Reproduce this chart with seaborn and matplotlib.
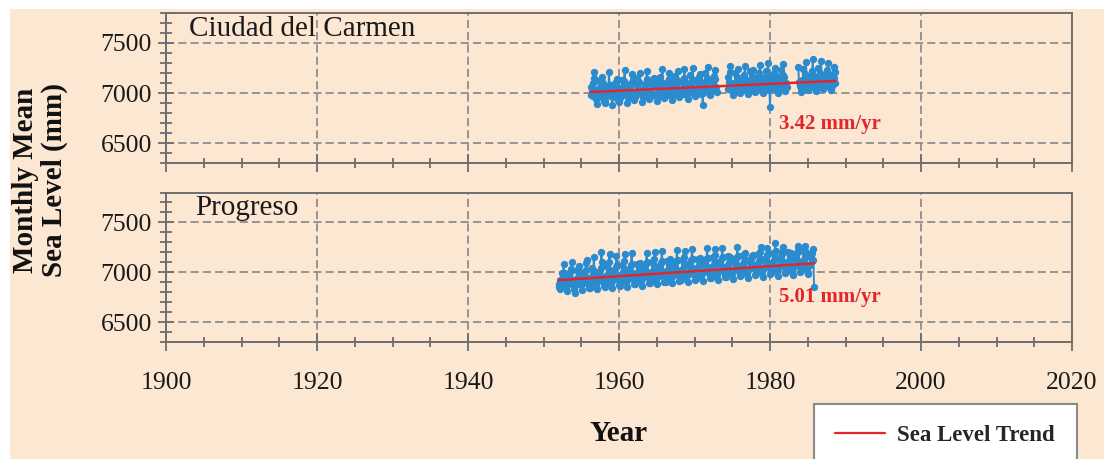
import numpy as np
import pandas as pd
import matplotlib
matplotlib.use("Agg")
import matplotlib.pyplot as plt
import seaborn as sns
from matplotlib.ticker import MultipleLocator
from matplotlib.patches import Rectangle
from matplotlib.lines import Line2D

# ---------------- data (monthly mean sea level, mm) ----------------
stations = ["Ciudad del Carmen", "Progreso"]
trend_labels = ["3.42 mm/yr", "5.01 mm/yr"]
trend_rates = [3.42, 5.01]          # mm/yr
trend_start_levels = [7010, 6920]   # mm at first record
start_years = [1956, 1952]
start_months = [4, 1]

N = None
carmen_levels = [
    6985, 7060, 7020, 6970, 7095, 7150, 7210, 7010, 6940,                    # 1956 Apr-Dec
    6960, 6895, 6990, 7040, 6990, 7120, 6975, 7005, 7085, 7160, 7100, 6950,  # 1957
    6920, 6935, 6905, 7030, 7070, 7010, 7060, 6995, 7205, 7080, 6990, 7000,  # 1958
    6975, 6885, 7010, 6960, 7085, 7050, 6970, 7110, 7095, 7140, 7015, 6930,  # 1959
    6910, 6950, 6995, 7050, 6985, 7130, 7040, 6990, 7120, 7230, 7000, 7020,  # 1960
    6985, 6905, 6950, 7035, 7075, 7040, 6980, 7100, 7185, 7090, 7120, 6950,  # 1961
    6930, 6960, 7000, 6985, 7090, 7150, 7050, 7005, 7110, 7200, 7035, 7015,  # 1962
    6990, 6910, 6960, 7045, 7030, 7065, 7090, 7015, 7220, 7140, 7010, 6970,  # 1963
    6945, 6965, 7020, 6990, 7100, 7080, 6985, 7120, 7150, 7105, 7130, 6995,  # 1964
    7000, 6920, 6970, 7060, 7040, 7160, 7060, 7020, 7095, 7240, 7030, 7040,  # 1965
    6955, 6975, 7015, 7005, 7110, 7075, 7000, 7140, 7200, 7120, 7060, 6975,  # 1966
    7010, 6930, 6985, 7070, 7045, 7170, 7075, 7030, 7130, 7215, 7120, 7030,  # 1967
    6965, 6990, 7030, 7000, 7120, 7095, 6995, 7150, 7235, 7110, 7045, 6990,  # 1968
    7020, 6945, 6995, 7080, 7050, 7180, 7090, 7040, 7140, 7250, 7130, 7040,  # 1969
    6975, 7000, 7040, 7015, 7125, 7100, 7010, 7160, 7190, 7120, 7070, 6995,  # 1970
    7030, 6880, 7005, 7090, 7060, 7195, 7095, 7050, 7150, 7260, 7135, 7045,  # 1971
    6985, 7005, 7050, 7020, 7130, 7110, 7020, 7165, 7230, 7135, 7060, 7010,  # 1972
    N, N, N, N, N, N, N, N, N, N, N, N,                                      # 1973
    N, N, N, N, N, 7160, 7040, 7110, 7210, 7265, 7080, 7025,                 # 1974
    7040, 6985, 7010, 7095, 7065, 7200, 7090, 7060, 7160, 7240, 7130, 7010,  # 1975
    7000, 7040, 7070, 7030, 7145, 7110, 7030, 7180, 7265, 7140, 7085, 7050,  # 1976
    7050, 6990, 7025, 7100, 7080, 7215, 7110, 7055, 7170, 7230, 7150, 7020,  # 1977
    7010, 7045, 7080, 7040, 7150, 7120, 7040, 7195, 7280, 7160, 7090, 7060,  # 1978
    7060, 7000, 7035, 7110, 7085, 7220, 7115, 7070, 7175, 7300, 7155, 7030,  # 1979
    6865, 7050, 7090, 7050, 7160, 7125, 7045, 7200, 7245, 7170, 7100, 7065,  # 1980
    7070, 7005, 7045, 7120, 7090, 7230, 7120, 7075, 7180, 7290, 7160, 7040,  # 1981
    7025, 7060, 7095, 7060, N, N, N, N, N, N, N, N,                          # 1982
    N, N, N, N, N, N, N, N, N, 7260, 7110, 7070,                             # 1983
    7080, 7015, 7050, 7130, 7100, 7240, 7130, 7085, 7190, 7310, 7165, 7050,  # 1984
    7030, 7070, 7105, 7070, 7170, 7150, 7060, 7215, 7340, 7180, 7115, 7080,  # 1985
    7085, 7020, 7060, 7140, 7110, 7250, 7140, 7090, 7200, 7320, 7170, 7055,  # 1986
    7040, 7080, 7115, 7075, 7180, 7160, 7065, 7225, 7300, 7190, 7120, 7090,  # 1987
    7090, 7030, 7070, 7150, 7115, 7260, 7145, 7095, 7210,                    # 1988 Jan-Sep
]

progreso_levels = [
    6850, 6880, 6830, 6925, 6905, 6990, 6870, 6975, 7080, 6960, 6990, 6855,  # 1952
    6870, 6810, 6900, 6880, 6960, 6940, 6925, 7010, 7035, 7100, 6920, 6890,  # 1953
    6830, 6860, 6795, 6930, 6915, 7020, 6880, 6945, 7065, 6990, 7000, 6870,  # 1954
    6885, 6820, 6905, 6895, 6980, 6960, 6940, 7025, 7090, 7120, 6935, 6900,  # 1955
    6845, 6870, 6840, 6950, 6925, 7040, 6895, 6970, 7150, 7010, 7005, 6880,  # 1956
    6900, 6830, 6920, 6910, 6995, 6980, 6955, 7040, 7205, 7100, 6950, 6915,  # 1957
    6860, 6885, 6855, 6960, 6940, 7060, 6910, 6985, 7100, 7180, 7020, 6890,  # 1958
    6915, 6845, 6930, 6925, 7010, 6995, 6970, 7055, 7165, 7070, 6965, 6930,  # 1959
    6870, 6900, 6865, 6975, 6955, 7075, 6925, 7000, 7110, 7185, 7035, 6900,  # 1960
    6930, 6855, 6940, 6935, 7025, 7010, 6985, 7070, 7190, 7085, 6980, 6945,  # 1961
    6880, 6910, 6880, 6990, 6965, 7085, 6940, 7010, 7060, 7095, 7050, 6915,  # 1962
    6945, 6865, 6955, 6950, 7040, 7020, 7000, 7085, 7195, 7100, 6995, 6955,  # 1963
    6890, 6925, 6895, 7000, 6980, 7100, 6950, 7025, 7130, 7200, 7060, 6925,  # 1964
    6955, 6880, 6965, 6960, 7050, 7035, 7010, 7095, 7210, 7110, 7005, 6970,  # 1965
    6905, 6935, 6905, 7015, 6990, 7110, 6965, 7040, 7090, 7130, 7075, 6940,  # 1966
    6965, 6890, 6980, 6975, 7065, 7045, 7025, 7110, 7220, 7125, 7015, 6980,  # 1967
    6915, 6950, 6920, 7025, 7005, 7125, 6975, 7050, 7150, 7215, 7085, 6950,  # 1968
    6980, 6900, 6990, 6985, 7075, 7060, 7035, 7120, 7230, 7135, 7030, 6995,  # 1969
    6925, 6960, 6930, 7040, 7015, 7135, 6990, 7065, 7110, 7140, 7095, 6960,  # 1970
    6990, 6915, 7000, 7000, 7090, 7070, 7045, 7130, 7240, 7145, 7040, 7005,  # 1971
    6940, 6970, 6945, 7050, 7030, 7150, 7000, 7075, 7175, 7235, 7105, 6975,  # 1972
    7000, 6925, 7010, 7010, 7100, 7085, 7060, 7140, 7245, 7155, 7055, 7015,  # 1973
    6950, 6985, 6955, 7065, 7040, 7160, 7015, 7090, 7120, 7150, 7115, 6985,  # 1974
    7010, 6935, 7025, 7020, 7110, 7095, 7070, 7150, 7250, 7165, 7065, 7030,  # 1975
    6960, 6995, 6970, 7075, 7055, 7170, 7025, 7100, 7195, 7130, 7125, 6995,  # 1976
    7020, 6945, 7035, 7035, 7120, 7110, 7080, 7160, 7150, 7175, 7075, 7040,  # 1977
    6975, 7005, 6980, 7085, 7065, 7180, 7040, 7110, 7205, 7250, 7135, 7005,  # 1978
    7030, 6955, 7045, 7045, 7130, 7120, 7090, 7170, 7240, 7185, 7085, 7050,  # 1979
    6985, 7015, 6990, 7095, 7075, 7190, 7050, 7120, 7290, 7210, 7145, 7015,  # 1980
    7040, 6965, 7055, 7055, 7140, 7130, 7100, 7180, 7215, 7250, 7095, 7060,  # 1981
    6995, 7025, 7000, 7105, 7085, 7200, 7060, 7130, 7160, 7195, 7150, 7025,  # 1982
    7050, 6975, 7065, 7065, 7150, 7140, 7110, 7190, 7225, 7260, 7105, 7070,  # 1983
    7005, 7035, 7010, 7115, 7095, 7210, 7070, 7140, 7265, 7205, 7160, 7035,  # 1984
    7060, 6985, 7070, 7075, 7160, 7150, 7115, 7195, 7230, 7120, 6850,        # 1985 Jan-Nov
]
station_levels = [carmen_levels, progreso_levels]

x_ticks = [1900, 1920, 1940, 1960, 1980, 2000, 2020]
y_ticks = [6500, 7000, 7500]

# ---------------- style ----------------
W, H, DPI = 1104, 459, 100
BG = "#FCE7D3"
BLUE = "#2A8BCF"
RED = "#E3262B"
SPINE = "#6E6E6E"
GRID = "#8E8E8E"
SERIF = ["Liberation Serif", "DejaVu Serif"]

sns.set_theme(style="ticks")
plt.rcParams["font.family"] = SERIF
plt.rcParams["font.serif"] = SERIF
plt.rcParams["axes.unicode_minus"] = False


def to_frame(start_year, start_month, levels):
    v = np.array([np.nan if x is None else x for x in levels], dtype=float)
    t = start_year + (start_month - 1 + np.arange(len(v))) / 12.0
    seg = np.cumsum(np.isnan(v))
    df = pd.DataFrame({"year": t, "level": v, "seg": seg})
    return df.dropna()


fig = plt.figure(figsize=(W / DPI, H / DPI), dpi=DPI, facecolor="white")
fig.patches.append(Rectangle((10 / W, 0), 1 - 10 / W, 1 - 9 / H,
                             transform=fig.transFigure, facecolor=BG,
                             edgecolor="none", zorder=-10))

left, right = 166 / W, 1072 / W
boxes = [(12.7, 163.3), (192.5, 342.0)]
axes = []
for i, (top_px, bot_px) in enumerate(boxes):
    ax = fig.add_axes([left, 1 - bot_px / H, right - left, (bot_px - top_px) / H])
    axes.append(ax)
    ax.set_facecolor(BG)

    df = to_frame(start_years[i], start_months[i], station_levels[i])
    sns.lineplot(data=df, x="year", y="level", units="seg", estimator=None,
                 color=BLUE, lw=1.4, marker="o", markersize=5.3,
                 markeredgewidth=0, ax=ax, legend=False, zorder=3)

    t0, t1 = df["year"].min(), df["year"].max()
    v0 = trend_start_levels[i]
    trend = pd.DataFrame({"year": [t0, t1],
                          "level": [v0, v0 + trend_rates[i] * (t1 - t0)]})
    sns.lineplot(data=trend, x="year", y="level", color=RED, lw=1.8,
                 ax=ax, legend=False, zorder=4)

    ax.set_xlim(1900, 2020)
    ax.set_ylim(6300, 7800)
    ax.set_xticks(x_ticks)
    ax.set_yticks(y_ticks)
    ax.xaxis.set_minor_locator(MultipleLocator(5))
    ax.yaxis.set_minor_locator(MultipleLocator(100))
    ax.grid(True, which="major", color=GRID, lw=1.3, ls=(0, (4.5, 2.3)), zorder=1)
    ax.set_axisbelow(True)
    for s in ax.spines.values():
        s.set_color(SPINE)
        s.set_linewidth(1.4)
        s.set_visible(True)
    ax.tick_params(axis="both", which="both", direction="inout", color=SPINE,
                   width=1.3, top=False, right=False)
    ax.tick_params(axis="x", which="major", length=13)
    ax.tick_params(axis="x", which="minor", length=7)
    ax.tick_params(axis="y", which="major", length=12)
    ax.tick_params(axis="y", which="minor", length=8)
    ax.tick_params(axis="both", which="major", labelsize=18.5, labelcolor="#1a1a1a")
    ax.tick_params(axis="y", which="major", pad=4)
    ax.tick_params(axis="x", which="major", pad=15)
    ax.set_ylabel("")
    ax.set_xlabel("")
    if i == 0:
        ax.tick_params(axis="x", which="both", labelbottom=False)

    ax.text(0.025 if i == 0 else 0.032, 0.895, stations[i], transform=ax.transAxes,
            ha="left", va="center", fontsize=21, color="#1a1a1a")
    ax.text(1981.2, 6690 if i == 0 else 6755, trend_labels[i], ha="left",
            va="center", fontsize=15, fontweight="bold", color=RED)

axes[1].set_xlabel("Year", fontsize=21, fontweight="bold", color="#111111",
                   labelpad=19)

fig.text(40 / W, 1 - 180 / H, "Monthly Mean\nSea Level (mm)", rotation=90,
         ha="center", va="center", multialignment="center", fontsize=21,
         fontweight="bold", color="#111111", linespacing=1.05)

handle = Line2D([], [], color=RED, lw=1.6)
leg_top = 1 - 404 / H
leg = fig.legend([handle], ["Sea Level Trend"], loc="upper left",
                 bbox_to_anchor=(814 / W, leg_top - 0.05, 263 / W, 0.05),
                 mode="expand", frameon=True, fancybox=False, framealpha=1,
                 facecolor="white", edgecolor="#8a8a8a", borderpad=0.9,
                 handlelength=2.2, handletextpad=0.5, borderaxespad=0,
                 prop={"family": SERIF, "weight": "bold", "size": 16.5})
leg.get_frame().set_linewidth(1.5)

fig.savefig("out.png", dpi=DPI, facecolor="white")
